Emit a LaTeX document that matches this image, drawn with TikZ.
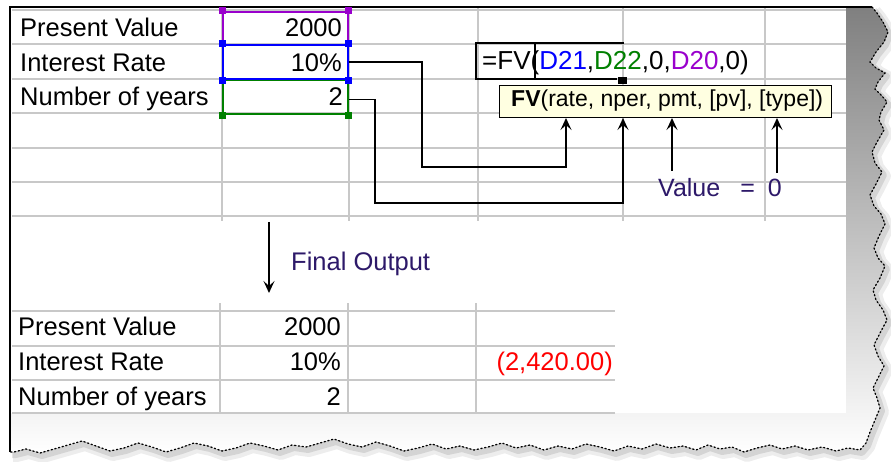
\documentclass[tikz,border=0pt]{standalone}
\usepackage{fontspec}
\setmainfont{Liberation Sans}
\usetikzlibrary{arrows.meta,calc}
\definecolor{gridc}{RGB}{200,200,200}
\definecolor{rpurple}{RGB}{153,0,204}
\definecolor{rblue}{RGB}{0,0,255}
\definecolor{rgreen}{RGB}{0,128,0}
\definecolor{tipfill}{RGB}{255,255,225}
\definecolor{shade}{RGB}{170,170,170}
\definecolor{navyc}{RGB}{45,25,105}
\definecolor{xlred}{RGB}{255,0,0}
\tikzset{
  cell/.style={inner sep=0pt, font=\fontsize{25.5}{30}\selectfont},
  gridln/.style={draw=gridc, line width=1.3pt},
  rng/.style={draw=#1, line width=1.6pt, inner sep=0pt, minimum width=125pt, minimum height=34.5pt, anchor=north west},
  conn/.style={draw=black, line width=1.6pt},
  arr/.style={conn, -{Stealth[length=12pt,width=11pt,inset=5pt]}},
}
\newcommand\hdl[2]{\fill[#1] ($(#2)+(-3.5,-3.5)$) rectangle ++(7,7);}
\def\tornpath{(872,7) -- (877,13) -- (883,22) -- (888,32) -- (884,42) -- (876,52) -- (870,62) -- (876,68) -- (885,73) -- (878,82) -- (875,89) -- (882,96) -- (887,102) -- (881,112) -- (879,120) -- (884,130) -- (877,142) -- (872,152) -- (875,163) -- (882,172) -- (876,184) -- (870,195) -- (874,206) -- (881,214) -- (885,224) -- (879,236) -- (874,248) -- (878,258) -- (885,266) -- (880,278) -- (873,290) -- (876,300) -- (883,310) -- (887,320) -- (880,333) -- (874,345) -- (878,356) -- (884,366) -- (878,378) -- (873,388) -- (877,398) -- (880,408) -- (875,420) -- (870,432) -- (866,443) -- (860,450) -- (848,448) -- (836,451) -- (822,447) -- (808,450) -- (795,446) -- (782,449) -- (770,445) -- (757,448) -- (744,452) -- (732,447) -- (720,449) -- (708,445) -- (696,450) -- (683,446) -- (670,448) -- (656,444) -- (642,449) -- (628,446) -- (614,451) -- (600,447) -- (586,444) -- (572,449) -- (558,446) -- (544,450) -- (530,445) -- (516,448) -- (502,443) -- (488,447) -- (474,450) -- (460,446) -- (446,449) -- (432,444) -- (418,448) -- (404,451) -- (390,446) -- (376,442) -- (362,447) -- (348,444) -- (334,439) -- (320,443) -- (306,447) -- (292,445) -- (278,450) -- (264,446) -- (250,443) -- (236,448) -- (222,451) -- (208,446) -- (194,443) -- (180,448) -- (166,452) -- (152,447) -- (138,443) -- (124,448) -- (110,451) -- (96,446) -- (82,441) -- (68,445) -- (54,449) -- (40,453) -- (26,449) -- (14,452) -- (10,452)}
\begin{document}
\begin{tikzpicture}[x=1pt,y=-1pt]
\useasboundingbox (0,0) rectangle (891,462);
\fill[white] (0,0) rectangle (891,462);
% shadow and torn paper
\draw[black, opacity=0.07, line width=12pt, line join=round, shift={(3,4)}] \tornpath;
\draw[black, opacity=0.10, line width=6pt, line join=round, shift={(2,3)}] \tornpath;
\fill[shade] (10,7) -- \tornpath -- cycle;
\draw[black, line width=1.3pt, dash pattern=on 1.2pt off 2.6pt, line cap=round] \tornpath;
\fill[white] (10,7) rectangle (846,413);
% grid upper
\foreach \yy in {10,44,79,113,148,182,216} \draw[gridln] (12,\yy) -- (846,\yy);
\foreach \xx in {222,349,478,623,765} \draw[gridln] (\xx,7) -- (\xx,221);
% grid lower
\foreach \yy in {311,346,380,413} \draw[gridln] (12,\yy) -- (615,\yy);
\foreach \xx in {220,348,476} \draw[gridln] (\xx,303) -- (\xx,413);
% borders
\draw[black, line width=2pt] (10,452) -- (10,7) -- (872,7);
% range boxes
\node[rng=rpurple, minimum height=33pt] (pv) at (222,11) {};
\node[rng=rgreen] (np) at (222,79) {};
\node[rng=rblue] (ir) at (222,44) {};
\hdl{rpurple}{pv.north west}\hdl{rpurple}{pv.north east}
\hdl{rgreen}{np.south west}\hdl{rgreen}{np.south east}
\hdl{rblue}{ir.north west}\hdl{rblue}{ir.north east}\hdl{rblue}{ir.south west}\hdl{rblue}{ir.south east}
% upper texts
\node[cell, anchor=base west] (l1) at (20,37) {Present Value};
\node[cell, anchor=base west] (l2) at (20,72) {Interest Rate};
\node[cell, anchor=base west] (l3) at (20,106) {Number of years};
\node[cell, anchor=base east] (n1) at (342,37) {2000};
\node[cell, anchor=base east] (n2) at (342,72) {10\%};
\node[cell, anchor=base east] (n3) at (343,106) {2};
% formula cell
\draw[line width=2.6pt] (535,43) -- (476,43) -- (476,79) -- (617,79);
\draw[line width=2.6pt] (476,43) -- (624,43);
\draw[line width=2pt] (535,43) -- (535,79);
\fill (618,77) rectangle (627,84);
\node[anchor=base west, inner sep=0pt, font=\fontsize{26}{30}\selectfont] (fx) at (482,70) {=FV(\textcolor{rblue}{D21},\textcolor{rgreen}{D22},0,\textcolor{rpurple}{D20},0)};
% tooltip
\node[draw=black, line width=1pt, fill=tipfill, anchor=north west, minimum width=332pt, minimum height=32pt, inner sep=0pt] (tip) at (499,85) {};
\node[anchor=base west, inner sep=0pt, font=\fontsize{23}{28}\selectfont] (tiptxt) at (511,107) {\textbf{FV}(rate, nper, pmt, [pv], [type])};
% connectors
\coordinate (k1a) at (422,167); \coordinate (k1b) at (566,167);
\draw[arr] (ir.east) -| (k1a) -- (k1b) -- (k1b |- tip.south);
\coordinate (k2a) at (375,203); \coordinate (k2b) at (623,203);
\draw[arr] ([yshift=-2.5pt]np.east) -| (k2a) -- (k2b) -- (k2b |- tip.south);
\coordinate (k3) at (672,171); \draw[arr] (k3) -- (k3 |- tip.south);
\coordinate (k4) at (777,173); \draw[arr] (k4) -- (k4 |- tip.south);
\node[anchor=base west, inner sep=0pt, text=navyc, font=\fontsize{25}{30}\selectfont] (val) at (658,197) {Value\hspace{20pt}=\hspace{13pt}0};
% final output
\coordinate (fo1) at (269,222); \coordinate (fo2) at (269,293);
\draw[arr] (fo1) -- (fo2);
\node[cell, anchor=base west, text=navyc] (fout) at (291,270) {Final Output};
% lower texts
\node[cell, anchor=base west] (m1) at (18,335) {Present Value};
\node[cell, anchor=base west] (m2) at (18,370) {Interest Rate};
\node[cell, anchor=base west] (m3) at (18,405) {Number of years};
\node[cell, anchor=base east] (p1) at (341,335) {2000};
\node[cell, anchor=base east] (p2) at (341,370) {10\%};
\node[cell, anchor=base east] (p3) at (341,405) {2};
\node[cell, anchor=base east, text=xlred] (res) at (613,370) {(2,420.00)};
\end{tikzpicture}
\end{document}
